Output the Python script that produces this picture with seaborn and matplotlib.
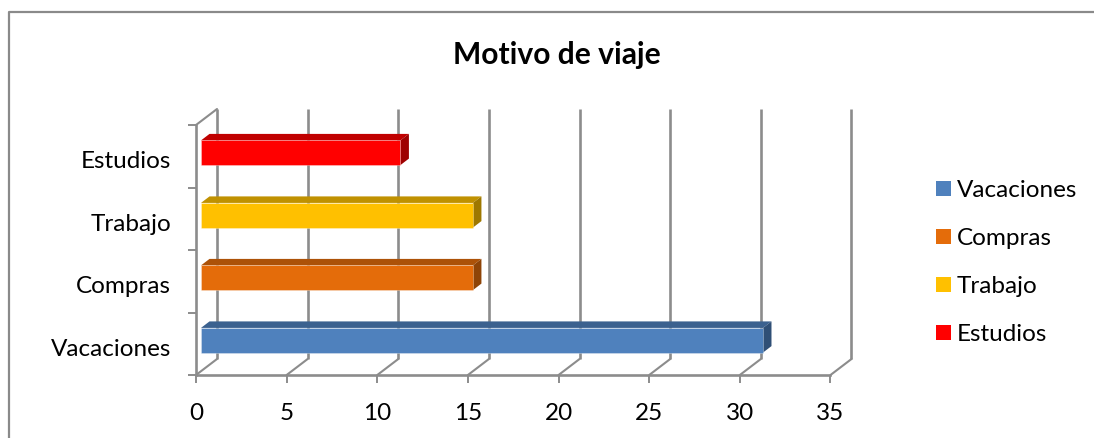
import matplotlib
matplotlib.use("Agg")
import matplotlib.pyplot as plt
from matplotlib.colors import to_hex
from matplotlib.lines import Line2D
from matplotlib.patches import Polygon, Rectangle
from matplotlib.transforms import Affine2D, IdentityTransform
import pandas as pd
import seaborn as sns

categories = ["Vacaciones", "Compras", "Trabajo", "Estudios"]
values = [31, 15, 15, 11]
front_colors = ["#4F81BD", "#E46C0A", "#FFC000", "#FF0000"]
top_colors = ["#3B618F", "#AC5208", "#C09100", "#C00000"]
side_colors = ["#2F4F76", "#8E4407", "#9E7800", "#9E0000"]
x_ticks = [0, 5, 10, 15, 20, 25, 30, 35]
title = "Motivo de viaje"

W, H = 1094, 439
GRID = "#8C8C8C"
FONT = ["Lato", "DejaVu Sans"]

sns.set_theme(style="white")
plt.rcParams["font.family"] = FONT

fig = plt.figure(figsize=(W / 100, H / 100), dpi=100, facecolor="white")
x0, x1, y_top, y_bot = 196, 830.5, 126, 376
ax = fig.add_axes([x0 / W, 1 - y_bot / H, (x1 - x0) / W, (y_bot - y_top) / H])
ax.patch.set_alpha(0)

df = pd.DataFrame({"motivo": categories, "n": values})
sns.barplot(data=df, y="motivo", x="n", hue="motivo", order=categories[::-1],
            hue_order=categories, palette=front_colors, dodge=False, width=0.395,
            saturation=1, legend=False, ax=ax, zorder=5, linewidth=0)
ax.set_xlim(0, 35)
ax.set_ylim(3.5, -0.5)
ax.set_xlabel("")
ax.set_ylabel("")

px_tf = IdentityTransform()

# Back wall gridlines and floor diagonals
bdx, bdy = 21, 16
back = ax.transData + Affine2D().translate(bdx, bdy)
ax.vlines(x_ticks, -0.5, 3.5, colors=GRID, lw=1.9, transform=back, zorder=1, clip_on=False)
for t in x_ticks:
    px, py = ax.transData.transform((t, 3.5))
    fig.add_artist(Line2D([px, px + bdx], [py, py + bdy], color=GRID, lw=1.5,
                          transform=px_tf, zorder=0.5))
px, py = ax.transData.transform((0, -0.5))
fig.add_artist(Line2D([px, px + bdx], [py, py + bdy], color=GRID, lw=1.5,
                      transform=px_tf, zorder=0.5))

# Depth faces and shifted fronts, from the bars' own geometry
shift = Affine2D().translate(5, 3.5)
dx, dy = 8.5, 6.5
for patch in list(ax.patches):
    i = front_colors.index(to_hex(patch.get_facecolor()).upper())
    y, h, w = patch.get_y(), patch.get_height(), patch.get_width()
    patch.set_transform(ax.transData + shift)
    patch.set_clip_on(False)
    patch.set_edgecolor((1, 1, 1, 0.35))
    patch.set_linewidth(0.6)
    xa, ya = (ax.transData + shift).transform((0, y))
    xb, yb = (ax.transData + shift).transform((w, y + h))
    top_y, low_y = max(ya, yb), min(ya, yb)
    ax.add_patch(Polygon([(xa, top_y), (xb, top_y), (xb + dx, top_y + dy), (xa + dx, top_y + dy)],
                         closed=True, facecolor=top_colors[i], edgecolor="none",
                         transform=px_tf, zorder=4, clip_on=False))
    ax.add_patch(Polygon([(xb, low_y), (xb + dx, low_y + dy), (xb + dx, top_y + dy), (xb, top_y)],
                         closed=True, facecolor=side_colors[i], edgecolor="none",
                         transform=px_tf, zorder=4, clip_on=False))

for s in ["top", "right"]:
    ax.spines[s].set_visible(False)
for s in ["left", "bottom"]:
    ax.spines[s].set_color(GRID)
    ax.spines[s].set_linewidth(1.9)
ax.set_xticks(x_ticks)
ax.set_yticks([-0.5, 0.5, 1.5, 2.5, 3.5], labels=[""] * 5)
ax.set_yticks([0, 1, 2, 3], labels=categories[::-1], minor=True)
ax.tick_params(axis="x", which="major", length=5.5, width=1.4, color=GRID, labelsize=17.5,
               pad=14, labelcolor="black", bottom=True)
ax.tick_params(axis="y", which="major", length=6, width=1.4, color=GRID, left=True)
ax.tick_params(axis="y", which="minor", length=0, labelsize=17.5, pad=18, labelcolor="black", left=True)
for lab in ax.get_yticklabels(minor=True):
    lab.set_transform(lab.get_transform() + Affine2D().translate(0, -2.5))

fig.text(557 / W, 1 - 55 / H, title, ha="center", va="center", fontsize=21.6,
         fontweight="bold", color="black")

# Legend
for name, col, yp in zip(categories, front_colors, [189, 237, 285, 333]):
    fig.add_artist(Rectangle((936 / W, 1 - (yp + 7.5) / H), 15 / W, 15 / H,
                             transform=fig.transFigure, facecolor=col, edgecolor="none"))
    fig.text(957 / W, 1 - (yp + 1.5) / H, name, ha="left", va="center", fontsize=17.5, color="black")

# Chart frame
fig.add_artist(Line2D([8.5 / W, 8.5 / W, 1], [0, 1 - 12.5 / H, 1 - 12.5 / H],
                      color="#8A8A8A", lw=1.6))
fig.savefig("out.png", dpi=100)
